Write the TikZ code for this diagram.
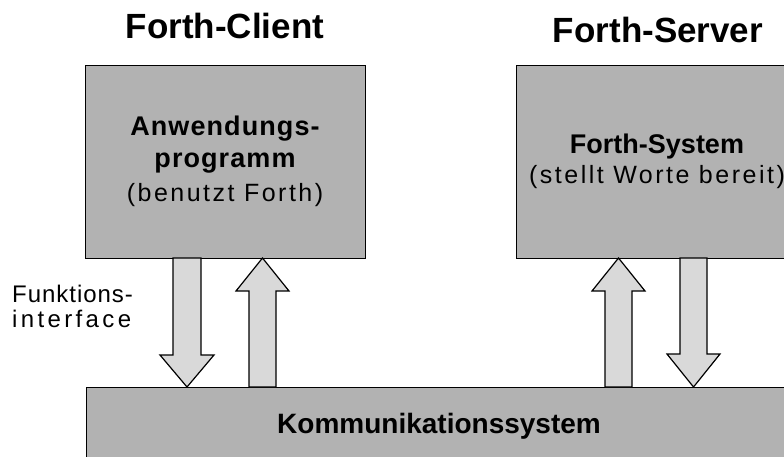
\documentclass[tikz,border=0pt]{standalone}
\usepackage{fontspec}
\setmainfont{Liberation Sans}
\newfontfamily\spacedfont[LetterSpace=10]{Liberation Sans}
\newfontfamily\tightfont[LetterSpace=4]{Liberation Sans}
\newfontfamily\widefont[LetterSpace=14]{Liberation Sans}
\newfontfamily\spacedbold[LetterSpace=4]{Liberation Sans Bold}
\usetikzlibrary{calc}
\definecolor{boxgray}{RGB}{178,178,178}
\definecolor{arrowgray}{RGB}{217,217,217}
\begin{document}
\begin{tikzpicture}[x=1pt,y=-1pt,
  box/.style={draw=black, line width=1.2pt, fill=boxgray, inner sep=0pt, anchor=north west},
  blockarrow/.style={draw=black, line width=1.2pt, fill=arrowgray, line join=miter},
  titletext/.style={font=\fontsize{35}{42}\selectfont\bfseries, anchor=base, inner sep=0pt},
  boldtext/.style={font=\fontsize{27}{32}\selectfont\bfseries, anchor=base, inner sep=0pt},
  plaintext/.style={font=\fontsize{25}{30}\selectfont\spacedfont, anchor=base, inner sep=0pt}]
\useasboundingbox (0,0) rectangle (784,456);
\clip (0,0) rectangle (784,456);

% boxes
\node[box, minimum width=280pt, minimum height=193pt] (client) at (85,65) {};
\node[box, minimum width=290pt, minimum height=193pt] (server) at (516,65) {};
\node[box, minimum width=720pt, minimum height=100pt] (komm) at (86,387) {};

% titles
\node[titletext] (tclient) at (225,38) {Forth-Client};
\node[titletext] (tserver) at (658,42) {Forth-Server};

% client text
\node[boldtext, font=\fontsize{27}{32}\selectfont\spacedbold] (c1) at (225,135) {Anwendungs-};
\node[boldtext, font=\fontsize{27}{32}\selectfont\spacedbold] (c2) at (225,167) {programm};
\node[plaintext] (c3) at (225,201) {(benutzt Forth)};

% server text
\node[boldtext] (s1) at (657,153) {Forth-System};
\node[plaintext] (s2) at (657,183) {(stellt Worte bereit)};

% bottom text
\node[boldtext, font=\fontsize{28}{33}\selectfont\bfseries] (k1) at (439,433) {Kommunikationssystem};

% side label
\node[plaintext, font=\fontsize{24}{29}\selectfont\tightfont, anchor=base west] (f1) at (12,302) {Funktions-};
\node[plaintext, font=\fontsize{24}{29}\selectfont\widefont, anchor=base west] (f2) at (12,327) {interface};

% block arrows: client side
\draw[blockarrow] (173,258) -- (173,355) -- (160,355) -- (187,387) -- (214,355) -- (201,355) -- (201,258) -- cycle;
\draw[blockarrow] (249,387) -- (249,291) -- (236,291) -- (262.5,258) -- (289,291) -- (276,291) -- (276,387) -- cycle;
% block arrows: server side
\draw[blockarrow] (605,387) -- (605,291) -- (592,291) -- (618.5,258) -- (645,291) -- (632,291) -- (632,387) -- cycle;
\draw[blockarrow] (680,258) -- (680,354) -- (667,354) -- (693.5,387) -- (720,354) -- (707,354) -- (707,258) -- cycle;
\end{tikzpicture}
\end{document}
